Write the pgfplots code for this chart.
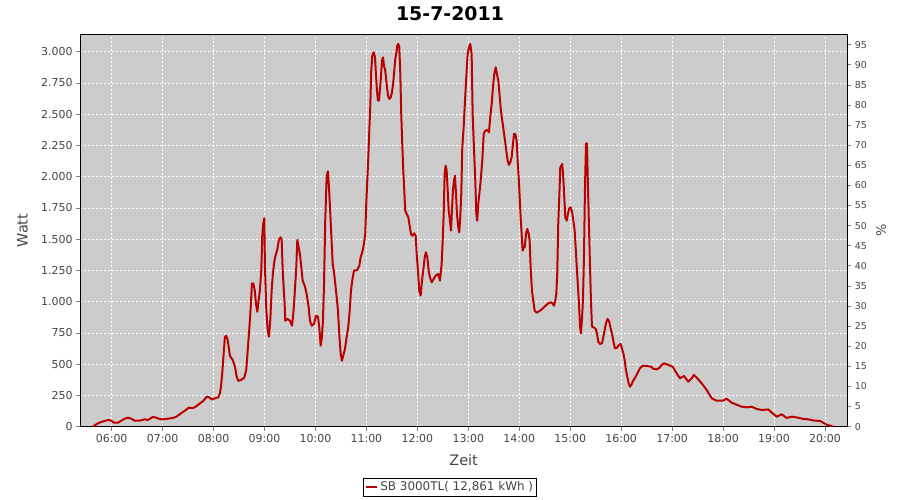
\documentclass[border=0pt]{standalone}
\usepackage{pgfplots}
\pgfplotsset{compat=1.18}
\usepackage{fontspec}
\setmainfont{DejaVu Sans}
\definecolor{plotbg}{RGB}{204,204,204}
\definecolor{linered}{RGB}{187,0,0}
\definecolor{labelgray}{RGB}{68,68,68}
\definecolor{tickgray}{RGB}{128,128,128}
\begin{document}
\begin{tikzpicture}
\useasboundingbox (0,0) rectangle (900bp,500bp);
\node[font=\fontsize{19}{22}\selectfont\bfseries] at (450bp,486bp) {15-7-2011};
\begin{axis}[
  at={(80bp,73.3bp)}, anchor=south west, scale only axis,
  width=767.3bp, height=392.4bp,
  xmin=322.7, xmax=1226.3, ymin=0, ymax=3139,
  axis background/.style={fill=plotbg},
  axis line style={draw=black, line width=0.8bp},
  tick align=outside, major tick length=4bp,
  tick style={tickgray, line width=0.8bp},
  xtick={360,420,480,540,600,660,720,780,840,900,960,1020,1080,1140,1200},
  xticklabels={06:00,07:00,08:00,09:00,10:00,11:00,12:00,13:00,14:00,15:00,16:00,17:00,18:00,19:00,20:00},
  ytick={0,250,500,750,1000,1250,1500,1750,2000,2250,2500,2750,3000},
  yticklabels={0,250,500,750,1.000,1.250,1.500,1.750,2.000,2.250,2.500,2.750,3.000},
  ytick pos=left, xtick pos=bottom,
  grid=major,
  grid style={white, dash pattern=on 2bp off 2bp, line width=0.8bp},
  ticklabel style={font=\fontsize{11}{13}\selectfont, text=labelgray},
  /pgf/number format/assume math mode=true,
  xlabel={Zeit}, ylabel={Watt},
  label style={font=\fontsize{14.5}{17}\selectfont, text=labelgray},
  xlabel style={at={(axis description cs:0.5,-0.084)}, anchor=center},
  ylabel style={at={(axis description cs:-0.075,0.5)}, anchor=center, rotate=0},
  legend style={at={(axis description cs:0.4824,-0.154)}, anchor=center,
    draw=black, fill=white, line width=0.8bp, inner sep=1.5bp,
    font=\fontsize{12}{14}\selectfont, text=labelgray},
  legend image code/.code={\draw[#1, line width=2.2bp] (0bp,0bp) -- (11bp,0bp);},
]
\addplot[linered, line width=2bp, line join=round] coordinates {
(338.0,0) (340.0,11) (343.9,27) (347.8,38) (351.8,46) (356.5,54) (359.5,48) (362.7,32)
(367.4,32) (371.3,48) (375.3,64) (379.2,72) (383.1,64) (387.1,48) (393.0,48) (398.9,59)
(402.7,54) (408.6,78) (412.5,72) (416.5,62) (420.4,59) (426.3,64) (432.2,70) (436.1,80)
(440.1,99) (444.0,118) (449.0,142) (450.2,150) (456.1,150) (460.1,166) (464.0,187)
(467.9,206) (471.9,240) (474.6,235) (477.8,219) (481.6,227) (485.5,235) (487.5,267)
(488.7,320) (490.2,427) (491.9,587) (493.4,720) (495.0,726) (496.6,694) (499.3,566)
(502.5,534) (505.2,480) (507.2,400) (509.1,366) (512.3,374) (516.1,392) (518.5,454)
(520.2,614) (521.7,747) (522.9,867) (524.0,987) (525.2,1147) (526.8,1147) (528.4,1094)
(529.9,987) (531.5,920) (533.1,1014) (534.6,1094) (536.2,1254) (537.3,1520) (538.5,1627)
(539.7,1667) (540.5,1280) (542.1,934) (543.7,774) (545.2,720) (546.8,854) (548.4,1094)
(549.9,1227) (551.5,1320) (553.1,1374) (555.0,1414) (557.0,1499) (559.0,1515) (560.2,1494)
(561.4,1254) (562.5,1115) (563.7,982) (564.4,848) (566.8,862) (570.0,848) (572.3,808)
(573.9,902) (575.0,1008) (576.2,1142) (577.4,1275) (578.6,1494) (580.2,1435) (581.7,1382)
(583.3,1275) (584.9,1168) (587.3,1128) (589.6,1062) (592.0,955) (593.5,848) (595.5,808)
(598.2,822) (600.6,888) (602.9,880) (604.5,795) (606.1,648) (607.6,715) (608.8,848)
(610.0,1115) (611.5,1648) (613.2,2008) (614.7,2043) (615.9,1915) (617.1,1755) (618.6,1542)
(620.3,1302) (621.8,1235) (623.3,1142) (625.0,1035) (626.5,928) (628.0,742) (629.7,582)
(631.2,528) (632.7,568) (634.7,622) (636.7,715) (638.6,795) (640.3,928) (641.8,1088)
(643.3,1168) (645.3,1248) (649.2,1254) (651.6,1288) (653.2,1355) (655.6,1408) (657.1,1462)
(658.6,1542) (659.8,1782) (661.0,1968) (662.2,2155) (663.4,2368) (664.5,2555) (665.7,2848)
(666.9,2968) (668.5,2995) (670.1,2955) (671.2,2822) (672.4,2688) (673.6,2608) (674.8,2608)
(676.0,2702) (677.1,2795) (678.3,2928) (679.5,2955) (680.7,2888) (682.2,2848) (683.8,2742)
(685.4,2648) (686.9,2622) (688.6,2635) (690.1,2675) (691.6,2755) (692.8,2848) (694.0,2942)
(695.1,2982) (696.3,3048) (697.5,3062) (698.7,3035) (699.9,2822) (701.0,2502) (702.2,2262)
(703.4,2048) (704.6,1888) (705.7,1728) (707.4,1702) (709.3,1675) (710.9,1608) (712.5,1542)
(714.0,1528) (716.3,1547) (718.0,1528) (719.2,1382) (720.7,1248) (722.2,1088) (723.9,1048)
(725.4,1168) (726.9,1248) (728.6,1355) (730.1,1395) (731.7,1355) (733.3,1248) (734.8,1195)
(736.8,1155) (739.2,1182) (741.5,1208) (744.6,1222) (746.6,1168) (748.6,1302) (749.8,1488)
(751.0,1702) (752.1,2022) (753.3,2088) (754.5,2048) (755.7,1888) (756.9,1728) (758.4,1648)
(759.6,1568) (760.7,1728) (761.9,1888) (763.1,1968) (764.3,2008) (765.5,1862) (766.6,1702)
(768.2,1595) (769.3,1555) (770.5,1675) (771.7,1862) (772.9,2235) (774.5,2395) (776.1,2608)
(777.6,2795) (779.2,2982) (780.8,3035) (782.3,3062) (783.9,2982) (785.1,2502) (786.6,2235)
(788.2,1968) (789.4,1702) (790.5,1648) (791.7,1782) (793.4,1888) (794.9,1995) (796.4,2128)
(798.1,2342) (799.9,2368) (802.3,2374) (804.3,2355) (805.8,2475) (807.5,2582) (809.0,2715)
(810.6,2822) (812.2,2875) (813.7,2822) (815.3,2768) (816.9,2648) (818.4,2528) (820.0,2448)
(821.6,2368) (823.2,2288) (824.7,2208) (826.3,2128) (827.9,2094) (829.4,2115) (831.0,2155)
(832.6,2262) (833.8,2342) (835.3,2342) (836.9,2288) (838.1,2128) (839.3,1995) (840.5,1835)
(841.6,1675) (842.8,1542) (844.0,1408) (845.2,1435) (846.4,1435) (847.9,1542) (849.4,1582)
(851.1,1542) (852.2,1488) (853.4,1275) (854.9,1088) (856.5,1008) (858.1,928) (860.5,912)
(864.4,928) (868.3,950) (872.3,976) (875.3,992) (878.5,992) (880.9,968) (882.4,1008)
(883.6,1062) (884.7,1222) (885.9,1622) (887.1,1835) (888.3,2075) (889.5,2088) (890.6,2102)
(891.8,1995) (893.0,1835) (894.2,1675) (895.8,1648) (897.3,1702) (898.9,1747) (900.5,1755)
(902.1,1720) (903.6,1654) (905.2,1574) (906.8,1387) (907.9,1254) (909.1,1120) (910.3,987)
(911.5,800) (912.7,747) (913.8,854) (915.0,1014) (916.2,1360) (917.4,1920) (918.6,2267)
(919.7,2267) (920.9,1920) (922.1,1600) (923.2,1307) (924.4,1014) (925.6,800) (927.6,795)
(930.0,782) (931.5,747) (933.0,680) (935.0,662) (937.4,667) (938.9,715) (940.6,774)
(942.1,827) (944.1,862) (946.0,840) (947.6,787) (949.5,734) (951.2,672) (952.7,627)
(955.0,632) (957.4,654) (959.4,662) (960.9,627) (962.5,587) (964.1,534) (965.6,454)
(967.2,400) (968.8,347) (970.4,320) (971.9,334) (973.5,360) (975.9,387) (978.2,414)
(980.1,440) (982.1,467) (984.8,486) (990.0,486) (995.1,480) (997.8,464) (1001.8,459)
(1004.9,470) (1007.7,494) (1010.4,507) (1015.5,494) (1020.6,480) (1025.3,427) (1029.2,387)
(1034.0,406) (1039.0,360) (1043.0,387) (1045.7,414) (1049.6,387) (1054.8,347) (1060.7,294)
(1066.6,227) (1072.4,208) (1079.5,208) (1084.2,224) (1090.1,192) (1096.0,176) (1101.9,160)
(1107.8,155) (1113.7,160) (1119.6,142) (1125.4,134) (1133.2,138) (1137.9,110) (1143.1,80)
(1149.0,99) (1154.9,70) (1161.1,80) (1168.5,72) (1174.4,62) (1180.3,59) (1186.2,50)
(1194.1,46) (1198.0,32) (1202.0,16) (1205.9,8) (1209.8,0)
};
\addlegendentry{SB 3000TL( 12,861 kWh )}
\end{axis}
\begin{axis}[
  at={(80bp,73.3bp)}, anchor=south west, scale only axis,
  width=767.3bp, height=392.4bp,
  xmin=322.7, xmax=1226.3, ymin=0, ymax=97.6,
  axis x line=none, axis y line*=right,
  axis line style={draw=black, line width=0.8bp},
  tick align=outside, major tick length=4bp,
  tick style={tickgray, line width=0.8bp},
  ytick={0,5,10,15,20,25,30,35,40,45,50,55,60,65,70,75,80,85,90,95},
  ticklabel style={font=\fontsize{9.5}{11}\selectfont, text=labelgray},
  /pgf/number format/assume math mode=true,
  ylabel={\%},
  ylabel style={at={(axis description cs:1.044,0.5)}, anchor=center, rotate=0,
    font=\fontsize{13}{15}\selectfont, text=labelgray},
]
\end{axis}
\end{tikzpicture}
\end{document}
